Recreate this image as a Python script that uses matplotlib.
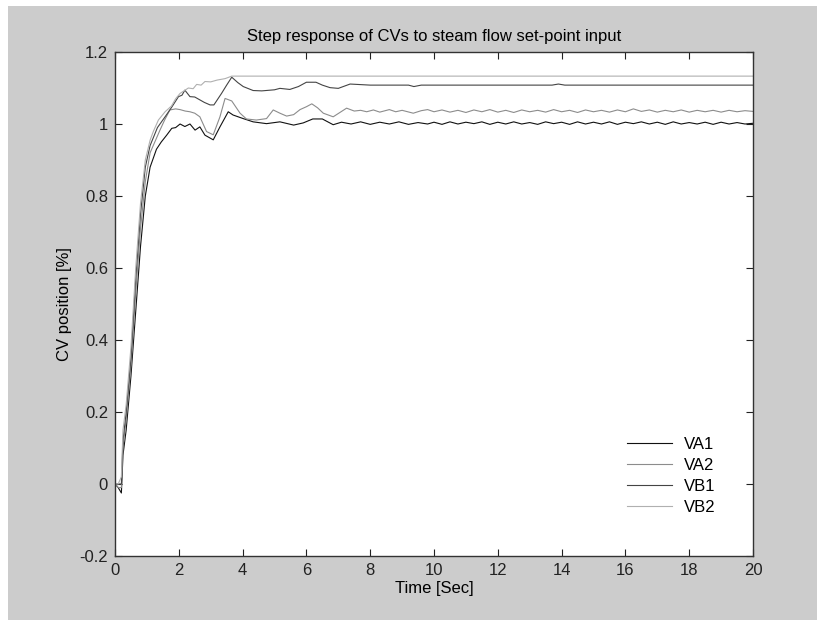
import matplotlib
matplotlib.use("Agg")
import matplotlib.pyplot as plt
import numpy as np
from matplotlib.patches import Rectangle

plt.rcParams['font.family'] = ['Liberation Sans', 'DejaVu Sans']

title = "Step response of CVs to steam flow set-point input"
xlabel = "Time [Sec]"
ylabel = "CV position [%]"
xticks = [0, 2, 4, 6, 8, 10, 12, 14, 16, 18, 20]
xticklabels = ["0", "2", "4", "6", "8", "10", "12", "14", "16", "18", "20"]
yticks = [-0.2, 0, 0.2, 0.4, 0.6, 0.8, 1.0, 1.2]
yticklabels = ["-0.2", "0", "0.2", "0.4", "0.6", "0.8", "1", "1.2"]

# --- VA1 (black) ---
t_va1 = [0, 0.1, 0.2, 0.25, 0.35, 0.5, 0.65, 0.8, 0.95, 1.1, 1.3, 1.45, 1.62, 1.78,
         1.9, 2.04, 2.19, 2.35, 2.51, 2.66, 2.82, 3.08, 3.29, 3.55, 3.7, 4.02, 4.33,
         4.75, 5.17, 5.6, 5.9, 6.2, 6.5, 6.84, 7.1, 7.4, 7.7, 8.0, 8.3, 8.6, 8.9,
         9.2, 9.5, 9.8]
va1 = [0, -0.01, -0.025, 0.08, 0.15, 0.3, 0.48, 0.66, 0.8, 0.88, 0.93, 0.95, 0.969,
       0.988, 0.99, 1.0, 0.993, 1.0, 0.983, 0.992, 0.969, 0.956, 0.992, 1.034, 1.025,
       1.015, 1.006, 1.001, 1.006, 0.997, 1.003, 1.014, 1.014, 0.998, 1.005, 1.0,
       1.006, 0.999, 1.005, 1.0, 1.006, 0.999, 1.004, 1.0]
# steady-state part, sampled every 0.25 s from 10 to 20
va1_tail = [1.005, 0.999, 1.006, 1.0, 1.005, 1.001, 1.006, 0.999, 1.005, 1.0,
            1.006, 1.0, 1.004, 0.999, 1.006, 1.001, 1.005, 0.999, 1.006, 1.0,
            1.005, 1.0, 1.006, 0.999, 1.005, 1.001, 1.006, 1.0, 1.005, 0.999,
            1.006, 1.0, 1.004, 1.0, 1.005, 0.999, 1.005, 1.0, 1.004, 1.0, 1.002]

# --- VA2 (gray) ---
t_va2 = [0, 0.1, 0.2, 0.25, 0.35, 0.5, 0.65, 0.8, 0.95, 1.1, 1.41, 1.55, 1.72, 1.9,
         2.04, 2.2, 2.35, 2.5, 2.66, 2.87, 3.08, 3.29, 3.45, 3.66, 3.92, 4.12, 4.43,
         4.75, 4.96, 5.17, 5.38, 5.6, 5.8, 6.0, 6.17, 6.35, 6.53, 6.84, 7.05, 7.26,
         7.5, 7.7, 7.89, 8.1, 8.3, 8.6, 8.8, 9.0, 9.35, 9.6, 9.8]
va2 = [0, -0.01, -0.01, 0.1, 0.18, 0.33, 0.53, 0.71, 0.84, 0.92, 0.983, 1.01, 1.039,
       1.042, 1.04, 1.036, 1.034, 1.03, 1.02, 0.979, 0.97, 1.02, 1.071, 1.064, 1.03,
       1.014, 1.011, 1.015, 1.039, 1.03, 1.022, 1.026, 1.04, 1.048, 1.056, 1.045,
       1.03, 1.02, 1.032, 1.044, 1.036, 1.038, 1.034, 1.039, 1.033, 1.04, 1.034,
       1.038, 1.03, 1.037, 1.04]
va2_tail = [1.034, 1.039, 1.033, 1.038, 1.032, 1.039, 1.034, 1.040, 1.033, 1.038,
            1.032, 1.039, 1.034, 1.038, 1.033, 1.040, 1.034, 1.038, 1.032, 1.039,
            1.034, 1.038, 1.033, 1.039, 1.034, 1.042, 1.035, 1.039, 1.033, 1.038,
            1.034, 1.039, 1.033, 1.038, 1.034, 1.038, 1.033, 1.038, 1.034, 1.037, 1.035]

# --- VB1 (dark gray) ---
t_vb1 = [0, 0.1, 0.2, 0.25, 0.35, 0.5, 0.65, 0.8, 0.95, 1.1, 1.33, 1.57, 1.78, 1.99,
         2.1, 2.19, 2.35, 2.5, 2.66, 2.8, 2.98, 3.1, 3.34, 3.5, 3.66, 3.85, 4.02,
         4.33, 4.6, 5.0, 5.17, 5.48, 5.75, 6.0, 6.3, 6.5, 6.74, 7.0, 7.37, 8.0, 9.2,
         9.37, 9.6, 13.7, 13.9, 14.1, 20]
vb1 = [0, 0, 0.0, 0.12, 0.2, 0.35, 0.57, 0.75, 0.88, 0.94, 0.99, 1.02, 1.047, 1.076,
       1.08, 1.094, 1.076, 1.075, 1.067, 1.06, 1.053, 1.053, 1.085, 1.108, 1.13,
       1.115, 1.104, 1.093, 1.092, 1.095, 1.099, 1.096, 1.104, 1.116, 1.116, 1.108,
       1.101, 1.099, 1.111, 1.108, 1.108, 1.104, 1.108, 1.108, 1.111, 1.108, 1.108]

# --- VB2 (light gray) ---
t_vb2 = [0, 0.1, 0.2, 0.25, 0.35, 0.5, 0.65, 0.8, 0.95, 1.1, 1.2, 1.36, 1.57, 1.77,
         1.9, 2.04, 2.3, 2.45, 2.56, 2.7, 2.82, 3.0, 3.2, 3.45, 3.66, 20]
vb2 = [0, 0, 0.02, 0.15, 0.22, 0.38, 0.6, 0.78, 0.9, 0.955, 0.979, 1.011, 1.034,
       1.05, 1.07, 1.085, 1.1, 1.098, 1.11, 1.108, 1.118, 1.117, 1.122, 1.126,
       1.133, 1.133]

t_tail = np.arange(10.0, 20.001, 0.25)

fig = plt.figure(figsize=(8.17, 6.2), dpi=100, facecolor="white")
# gray MATLAB figure background (white strip at left/top)
fig.patches.append(Rectangle((8 / 817, 0), 1, 1 - 6 / 620, transform=fig.transFigure,
                             facecolor="#cccccc", edgecolor="none", zorder=-1))
ax = fig.add_axes([115 / 817, 1 - 556 / 620, 638 / 817, 504 / 620])
ax.set_facecolor("white")

lw = 0.8
ax.plot(list(t_va1) + list(t_tail), va1 + va1_tail, color="#111111", lw=lw, label="VA1")
ax.plot(list(t_va2) + list(t_tail), va2 + va2_tail, color="#8c8c8c", lw=lw, label="VA2")
ax.plot(t_vb1, vb1, color="#444444", lw=lw, label="VB1")
ax.plot(t_vb2, vb2, color="#b0b0b0", lw=lw, label="VB2")

ax.set_xlim(0, 20)
ax.set_ylim(-0.2, 1.2)
ax.set_xticks(xticks)
ax.set_xticklabels(xticklabels)
ax.set_yticks(yticks)
ax.set_yticklabels(yticklabels)
fs = 12
ax.tick_params(direction="in", length=5, width=0.8, top=True, right=True,
               labelsize=fs, pad=5, colors="#222222")
for s in ax.spines.values():
    s.set_color("#333333")
    s.set_linewidth(1.0)

ax.set_title(title, fontsize=fs, pad=8)
ax.set_xlabel(xlabel, fontsize=fs, labelpad=2)
ax.set_ylabel(ylabel, fontsize=fs, labelpad=5)

ax.legend(loc="upper left", bbox_to_anchor=(0.8025, 0.236), frameon=False,
          fontsize=fs, handlelength=2.7, handletextpad=0.7, labelspacing=0.36,
          borderpad=0, borderaxespad=0)

fig.savefig("out.png", dpi=100, facecolor=fig.get_facecolor())
